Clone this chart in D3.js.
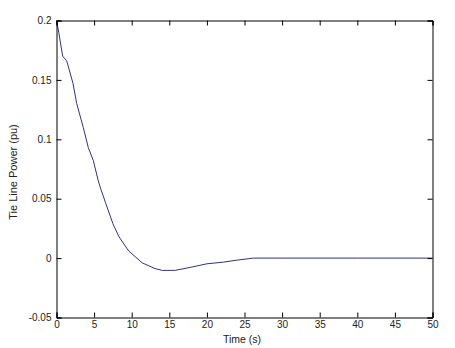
<!DOCTYPE html>
<html><head><meta charset="utf-8">
<script src="https://cdn.jsdelivr.net/npm/d3@7"></script>
<style>body{margin:0;background:#fff;} text{font-family:"Liberation Sans",Arial,sans-serif;}</style>
</head><body>
<svg id="c" width="455" height="348"></svg>
<script>
const timeS = [0, 0.3, 0.82, 1.36, 2.2, 2.69, 3.56, 4.23, 4.9, 5.56, 5.9, 6.5, 7.5, 8.3, 9.6, 11.4, 13.1, 14.1, 15.8, 17.8, 20, 22.2, 24, 26.2, 30, 40, 50];
const power = [0.2, 0.19, 0.170, 0.166, 0.147, 0.130, 0.110, 0.093, 0.082, 0.065, 0.058, 0.047, 0.029, 0.018, 0.006, -0.004, -0.0088, -0.0104, -0.0103, -0.0078, -0.0048, -0.0034, -0.0017, 0, 0, 0, 0];
const xTicks = [0,5,10,15,20,25,30,35,40,45,50];
const yTicks = [-0.05,0,0.05,0.1,0.15,0.2];
const yTickLabels = ["-0.05","0","0.05","0.1","0.15","0.2"];

const L=56.5, R=432.5, T=20.5, B=317.5;
const svg=d3.select("#c");
const x=d3.scaleLinear().domain([0,50]).range([L,R]);
const y=d3.scaleLinear().domain([-0.05,0.2]).range([B,T]);

const line=d3.line().x((d,i)=>x(timeS[i])).y(d=>y(d));
svg.append("path").datum(power).attr("d",line).attr("fill","none").attr("stroke","#32327c").attr("stroke-width",1);

const fs=10;
const axB=d3.axisBottom(x).tickValues(xTicks).tickSize(-5).tickPadding(3);
const gb=svg.append("g").attr("transform",`translate(0,${B})`).call(axB);
const axT=d3.axisTop(x).tickValues(xTicks).tickSize(-5).tickFormat("");
const gt=svg.append("g").attr("transform",`translate(0,${T})`).call(axT);
const axL=d3.axisLeft(y).tickValues(yTicks).tickSize(-5).tickPadding(5).tickFormat((d,i)=>yTickLabels[i]);
const gl=svg.append("g").attr("transform",`translate(${L},0)`).call(axL);
const axR=d3.axisRight(y).tickValues(yTicks).tickSize(-5).tickFormat("");
const gr=svg.append("g").attr("transform",`translate(${R},0)`).call(axR);
[gb,gt,gl,gr].forEach(g=>{
  g.select(".domain").attr("stroke","#000").attr("stroke-width",1);
  g.selectAll(".tick line").attr("stroke","#000");
  g.selectAll("text").attr("font-size",fs).attr("fill","#222").style("font-family","Liberation Sans, Arial, sans-serif");
});
svg.append("text").attr("x",242).attr("y",343).attr("text-anchor","middle").attr("font-size",10.5).attr("fill","#222").text("Time (s)");
svg.append("text").attr("transform",`translate(17,172) rotate(-90)`).attr("text-anchor","middle").attr("font-size",11).attr("fill","#222").text("Tie Line Power (pu)");
</script>
</body></html>
